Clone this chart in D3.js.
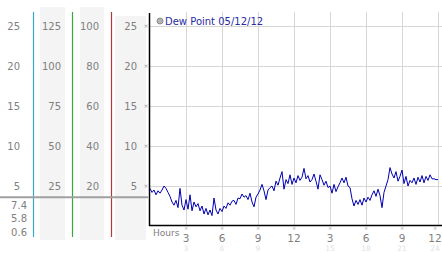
<!DOCTYPE html>
<html>
<head>
<meta charset="utf-8">
<script src="https://cdn.jsdelivr.net/npm/d3@7"></script>
<style>
  body { margin: 0; background: #fff; }
  svg { display: block; font-family: "DejaVu Sans", Verdana, sans-serif; }
</style>
</head>
<body>
<div id="chart"></div>
<script>
// dew point, one reading every 10 minutes, 0h .. 24h
const dewPoint = [
  4.7, 4.2, 4.5, 3.9, 4.4, 4.1,
  4.5, 5.0, 4.7, 4.2, 3.7, 3.0,
  2.6, 3.2, 2.3, 4.7, 2.6, 2.0,
  3.3, 2.1, 3.9, 1.9, 3.0, 2.4,
  2.8, 1.9, 2.5, 1.5, 2.2, 1.4,
  2.0, 1.3, 3.5, 2.0, 1.5, 2.2,
  1.8, 2.5, 2.2, 2.9, 2.6, 3.1,
  3.2, 2.7, 3.5, 3.4, 4.0, 3.6,
  3.8, 3.3, 4.1, 3.0, 2.4, 3.6,
  4.0, 4.5, 5.2, 4.4, 3.3, 4.5,
  4.8, 5.0, 4.4, 5.6, 5.1, 6.0,
  6.8, 4.6, 5.8, 5.3, 6.4, 5.2,
  6.0, 5.4, 6.3, 5.7, 6.1, 7.2,
  5.9, 6.3, 5.5, 5.8, 6.5, 5.6,
  4.6, 6.4, 5.8, 5.1, 5.6, 4.8,
  5.0, 4.1, 5.2, 4.3, 4.9, 5.4,
  6.0, 5.4, 6.1, 5.0, 4.8, 3.4,
  2.5, 3.2, 2.7, 3.3, 2.6, 3.5,
  3.0, 3.6, 3.2, 3.9, 4.4, 3.7,
  4.6, 3.8, 2.3, 4.2, 5.0, 5.8,
  7.3, 6.5, 6.0, 6.8, 5.6, 6.2,
  7.0, 5.3, 6.2, 5.0, 5.7, 5.4,
  6.0, 5.2, 6.1, 5.5, 6.3, 5.4,
  6.2, 5.7, 6.4, 5.9, 5.9, 5.8,
  5.8
];
const stepMinutes = 10;

const yTicks = [25, 20, 15, 10, 5];
const col1Labels = ["25", "20", "15", "10", "5"];
const col2Labels = ["125", "100", "75", "50", "25"];
const col3Labels = ["100", "80", "60", "40", "20"];
const col4Labels = ["25", "20", "15", "10", "5"];
const statLabels = ["7.4", "5.8", "0.6"];
const refLine = 3.6;

const hourTicks = [3, 6, 9, 12, 15, 18, 21, 24];
const hourLabels = ["3", "6", "9", "12", "3", "6", "9", "12"];
const hour24Labels = ["3", "6", "9", "", "15", "18", "21", "24"];
const legendText = "Dew Point 05/12/12";

const W = 442, H = 253;
const svg = d3.select('#chart').append('svg').attr('width', W).attr('height', H);

const x = d3.scaleLinear().domain([0, 24]).range([150, 438]);
const y = d3.scaleLinear().domain([0, 25]).range([226, 26]);

// side panels
const panels = [[40, 7, 25], [80, 7, 24], [115, 16, 31]];
panels.forEach(p => {
  svg.append('rect').attr('x', p[0]).attr('y', p[1]).attr('width', p[2])
    .attr('height', 240 - p[1]).attr('fill', '#f4f4f4');
});

// coloured separators
[[33, '#3aa8c8'], [72, '#3aa83a'], [111, '#b03a3a']].forEach(s => {
  svg.append('line').attr('x1', s[0] + 0.5).attr('x2', s[0] + 0.5)
    .attr('y1', 12).attr('y2', 237).attr('stroke', s[1]).attr('stroke-width', 1.2);
});

// grid
const grid = svg.append('g');
grid.selectAll('.hg').data(yTicks).join('line')
  .attr('x1', 150).attr('x2', 442)
  .attr('y1', d => Math.round(y(d)) + 0.5).attr('y2', d => Math.round(y(d)) + 0.5)
  .attr('stroke', '#d6d6d6');
grid.selectAll('.vg').data(hourTicks).join('line')
  .attr('x1', d => Math.round(x(d)) + 0.5).attr('x2', d => Math.round(x(d)) + 0.5)
  .attr('y1', 12).attr('y2', 225)
  .attr('stroke', '#d6d6d6');

// reference line across the side panels
svg.append('line').attr('x1', 0).attr('x2', 148)
  .attr('y1', y(refLine)).attr('y2', y(refLine))
  .attr('stroke', '#a0a0a0').attr('stroke-width', 2);

// label columns
function column(labels, xr) {
  svg.append('g').selectAll('text').data(yTicks).join('text')
    .attr('x', xr).attr('y', d => y(d)).attr('dy', '0.35em')
    .attr('text-anchor', 'end').attr('font-size', 10).attr('fill', '#808080')
    .text((d, i) => labels[i]);
}
column(col1Labels, 20);
column(col2Labels, 61);
column(col3Labels, 99);
column(col4Labels, 137);

svg.append('g').selectAll('text').data(statLabels).join('text')
  .attr('x', 27).attr('y', (d, i) => 205 + i * 13.5).attr('dy', '0.35em')
  .attr('text-anchor', 'end').attr('font-size', 10).attr('fill', '#808080')
  .text(d => d);

// little tick glyphs
svg.append('g').selectAll('text').data(yTicks).join('text')
  .attr('x', 146).attr('y', d => y(d)).attr('dy', '0.35em')
  .attr('text-anchor', 'middle').attr('font-size', 6).attr('fill', '#999')
  .text('\u00d7');
svg.append('g').selectAll('text').data(hourTicks).join('text')
  .attr('x', d => x(d) - (d === 24 ? 3 : 0)).attr('y', 228).attr('dy', '0.35em')
  .attr('text-anchor', 'middle').attr('font-size', 5).attr('fill', '#999')
  .text('\u00d7');

// axes
svg.append('line').attr('x1', 149.5).attr('x2', 149.5).attr('y1', 13).attr('y2', 226)
  .attr('stroke', '#000').attr('stroke-width', 1.5);
svg.append('line').attr('x1', 149).attr('x2', 442).attr('y1', 225.5).attr('y2', 225.5)
  .attr('stroke', '#000').attr('stroke-width', 1.5);

// hour labels
svg.append('text').attr('x', 153).attr('y', 236).attr('font-size', 9)
  .attr('fill', '#808080').text('Hours');
svg.append('g').selectAll('text').data(hourTicks).join('text')
  .attr('x', d => x(d) - (d === 24 ? 3 : 0)).attr('y', 241.5)
  .attr('text-anchor', 'middle').attr('font-size', 10.5).attr('fill', '#808080')
  .text((d, i) => hourLabels[i]);
svg.append('g').selectAll('text').data(hourTicks).join('text')
  .attr('x', d => x(d) - (d === 24 ? 3 : 0)).attr('y', 251)
  .attr('text-anchor', 'middle').attr('font-size', 7.5).attr('fill', '#e2e2e2')
  .text((d, i) => hour24Labels[i]);

// data line
const line = d3.line()
  .x((d, i) => x(i * stepMinutes / 60))
  .y(d => y(d));
svg.append('path').datum(dewPoint)
  .attr('d', line).attr('fill', 'none')
  .attr('stroke', '#0000b4').attr('stroke-width', 1);

// legend
svg.append('circle').attr('cx', 160).attr('cy', 21).attr('r', 3)
  .attr('fill', '#b4b4b4').attr('stroke', '#8c8c8c');
svg.append('text').attr('x', 165).attr('y', 25).attr('font-size', 10)
  .attr('fill', '#2b2ba6').text(legendText);
</script>
</body>
</html>
